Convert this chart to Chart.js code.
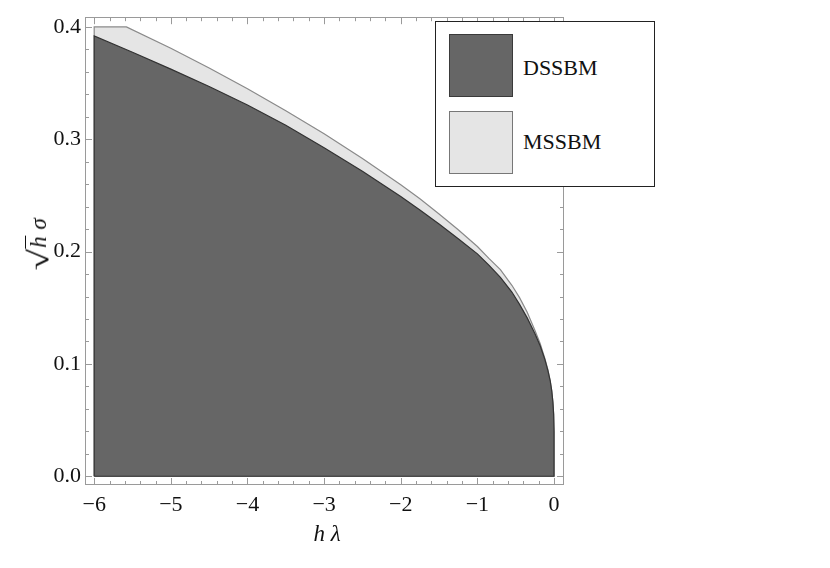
<!DOCTYPE html>
<html>
<head>
<meta charset="utf-8">
<script src="https://cdn.jsdelivr.net/npm/chart.js@4.4.1/dist/chart.umd.min.js"></script>
<style>
  html, body { margin: 0; padding: 0; background: #fff; }
  #wrap { position: relative; width: 830px; height: 568px; background: #fff; font-family: 'Liberation Serif', 'DejaVu Serif', serif; color: #111; }
  #chart { position: absolute; left: 0; top: 0; }
  .legend { position: absolute; left: 435px; top: 21px; width: 220px; height: 166px; border: 1px solid #222; background: #fff; box-sizing: border-box; }
  .legend .sw { position: absolute; left: 13px; width: 64px; height: 63px; box-sizing: border-box; }
  .legend .lab { position: absolute; left: 87px; font-size: 22px; line-height: 22px; }
  .xtitle { position: absolute; left: 327px; top: 534px; transform: translate(-50%, -50%); font-size: 23px; white-space: nowrap; }
  .ytitle { position: absolute; left: 39px; top: 245px; transform: translate(-50%, -50%) rotate(-90deg); font-size: 23px; white-space: nowrap; line-height: 30px; }
  .root { display: inline-block; transform: scale(1.7, 1.25); transform-origin: right center; margin-left: 10px; }
  .rad { border-top: 1.3px solid #111; padding: 0 1px; font-style: italic; }
</style>
</head>
<body>
<div id="wrap">
  <canvas id="chart" width="830" height="568"></canvas>
  <div class="legend">
    <div class="sw" style="top:12px;background:#666666;border:1px solid #3a3a3a;"></div>
    <div class="lab" style="top:35px;">DSSBM</div>
    <div class="sw" style="top:89px;background:#e5e5e5;border:1px solid #777;"></div>
    <div class="lab" style="top:109px;">MSSBM</div>
  </div>
  <div class="xtitle"><i>h</i> <i>λ</i></div>
  <div class="ytitle"><span class="root">√</span><span class="rad">h</span>&nbsp;<i>σ</i></div>
</div>
<script>
// upper boundary of each stability region (h*lambda, sqrt(h)*sigma)
const dssbmX = [-6, -5.5, -5, -4.5, -4, -3.5, -3, -2.5, -2, -1.75, -1.5, -1.25, -1, -0.85, -0.7, -0.55, -0.45, -0.35, -0.25, -0.18, -0.12, -0.08, -0.05, -0.03, -0.015, -0.005, 0];
const dssbmY = [0.392, 0.3775, 0.3625, 0.347, 0.3305, 0.3125, 0.2925, 0.2715, 0.249, 0.237, 0.2245, 0.2115, 0.198, 0.188, 0.177, 0.164, 0.153, 0.141, 0.127, 0.116, 0.104, 0.094, 0.085, 0.076, 0.066, 0.055, 0.04];
const mssbmX = [-6, -5.58, -5, -4.5, -4, -3.5, -3, -2.5, -2, -1.75, -1.5, -1.25, -1, -0.85, -0.7, -0.55, -0.45, -0.35, -0.25, -0.18, -0.12, -0.08, -0.05, -0.03, -0.015, -0.005, 0];
const mssbmY = [0.4, 0.4, 0.381, 0.3635, 0.345, 0.3255, 0.305, 0.283, 0.2595, 0.247, 0.2335, 0.2195, 0.2045, 0.194, 0.184, 0.17, 0.159, 0.146, 0.13, 0.118, 0.105, 0.095, 0.085, 0.076, 0.066, 0.055, 0.04];

const xTickValues = [-6, -5, -4, -3, -2, -1, 0];
const yTickValues = [0.0, 0.1, 0.2, 0.3, 0.4];

// closed region: down the left edge, along the boundary, back along sigma = 0
function region(xs, ys) {
    const pts = [{ x: xs[0], y: 0 }];
    xs.forEach((x, i) => pts.push({ x, y: ys[i] }));
    pts.push({ x: xs[xs.length - 1], y: 0 });
    pts.push({ x: xs[0], y: 0 });
    return pts;
}

const FRAME = '#9a9a9a';
const SERIF = 'Liberation Serif';
Chart.defaults.font.family = SERIF;

// Mathematica-style frame with inward ticks on all four sides
const frameTicks = {
    id: 'frameTicks',
    afterDraw(chart) {
        const { ctx, chartArea: a, scales: { x, y } } = chart;
        ctx.save();
        ctx.strokeStyle = FRAME;
        ctx.lineWidth = 1;
        ctx.strokeRect(Math.round(a.left) + 0.5, Math.round(a.top) + 0.5,
            Math.round(a.right - a.left) - 1, Math.round(a.bottom - a.top) - 1);
        ctx.beginPath();
        for (let i = 0; i < xTickValues.length; i++) {
            const v0 = xTickValues[i];
            for (let k = 0; k < 5; k++) {
                if (i === xTickValues.length - 1 && k > 0) break;
                const v = v0 + k * 0.2;
                const px = Math.round(x.getPixelForValue(v)) + 0.5;
                const len = k === 0 ? 7 : 4;
                ctx.moveTo(px, a.bottom); ctx.lineTo(px, a.bottom - len);
                ctx.moveTo(px, a.top); ctx.lineTo(px, a.top + len);
            }
        }
        for (let i = 0; i < yTickValues.length; i++) {
            const v0 = yTickValues[i];
            for (let k = 0; k < 5; k++) {
                if (i === yTickValues.length - 1 && k > 0) break;
                const v = v0 + k * 0.02;
                const py = Math.round(y.getPixelForValue(v)) + 0.5;
                const len = k === 0 ? 7 : 4;
                ctx.moveTo(a.left, py); ctx.lineTo(a.left + len, py);
                ctx.moveTo(a.right, py); ctx.lineTo(a.right - len, py);
            }
        }
        ctx.stroke();
        ctx.restore();
    }
};

const tickFont = { family: SERIF, size: 22 };

new Chart(document.getElementById('chart'), {
    type: 'scatter',
    data: {
        datasets: [
            {
                label: 'DSSBM',
                data: region(dssbmX, dssbmY),
                showLine: true,
                fill: 'shape',
                backgroundColor: '#666666',
                borderColor: '#333333',
                borderWidth: 1.2,
                pointRadius: 0,
                tension: 0,
            },
            {
                label: 'MSSBM',
                data: region(mssbmX, mssbmY),
                showLine: true,
                fill: 'shape',
                backgroundColor: '#e5e5e5',
                borderColor: '#8a8a8a',
                borderWidth: 1.2,
                pointRadius: 0,
                tension: 0,
            },
        ],
    },
    options: {
        responsive: false,
        devicePixelRatio: 1,
        animation: false,
        layout: { padding: { top: 7, right: 266, bottom: 0, left: 0 } },
        plugins: {
            legend: { display: false },
            tooltip: { enabled: false },
        },
        scales: {
            x: {
                type: 'linear',
                min: -6.12,
                max: 0.13,
                grid: { display: false, drawTicks: false },
                border: { display: false },
                afterBuildTicks: s => { s.ticks = xTickValues.map(v => ({ value: v })); },
                afterFit: s => { s.height = 83; },
                ticks: {
                    font: tickFont,
                    color: '#111',
                    padding: 7,
                    maxRotation: 0,
                    autoSkip: false,
                    callback: v => (v < 0 ? '\u2212' + Math.abs(v) : String(v)),
                },
            },
            y: {
                type: 'linear',
                min: -0.0078,
                max: 0.4087,
                grid: { display: false, drawTicks: false },
                border: { display: false },
                afterBuildTicks: s => { s.ticks = yTickValues.map(v => ({ value: v })); },
                afterFit: s => { s.width = 85; },
                ticks: {
                    font: tickFont,
                    color: '#111',
                    padding: 4,
                    autoSkip: false,
                    callback: v => Number(v).toFixed(1),
                },
            },
        },
    },
    plugins: [frameTicks],
});
</script>
</body>
</html>
